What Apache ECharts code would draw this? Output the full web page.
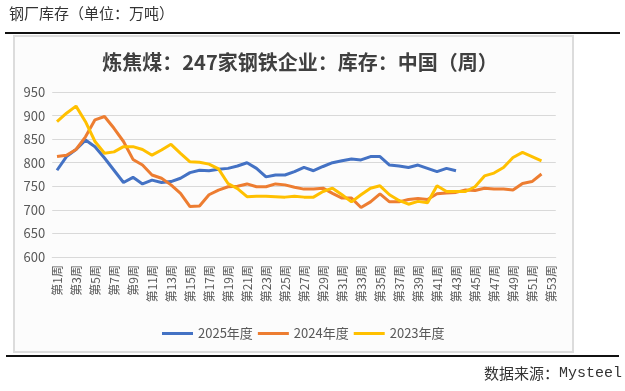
<!DOCTYPE html>
<html><head><meta charset="utf-8">
<script src="https://cdn.jsdelivr.net/npm/echarts@6/dist/echarts.min.js"></script>
<style>html,body{margin:0;padding:0;background:#fff;}#c{width:625px;height:391px;}</style>
</head><body><div id="c"></div>
<script>
const weeks = Array.from({length:53},(_,i)=>'第'+(i+1)+'周');
const s2025 = [784,813,828,848,834,810,784,758,769,755,763,758,760,767,779,784,783,786,788,793,800,788,770,774,774,781,790,783,792,800,804,808,806,813,813,795,793,790,795,788,781,788,783];
const s2024 = [813,816,828,855,891,898,873,845,807,795,774,767,753,735,707,708,732,742,749,750,755,749,749,755,753,748,744,744,746,735,725,725,705,717,734,717,717,722,724,722,734,736,737,742,741,746,744,744,742,756,760,776];
const s2023 = [887,905,920,887,845,820,823,834,834,828,816,827,839,820,802,801,797,787,756,745,728,729,729,728,727,729,727,727,739,746,732,717,732,746,751,732,720,712,718,715,751,739,739,739,749,772,778,790,811,822,813,804];
const yTicks = {min:600,max:950,interval:50};
const seriesNames = ['2025年度','2024年度','2023年度'];
const colors = ['#4472C4','#ED7D31','#FFC000'];
const cjk = '"Noto Sans CJK SC", sans-serif';

const chart = echarts.init(document.getElementById('c'), null, {renderer:'canvas'});
chart.setOption({
  animation:false,
  backgroundColor:'#ffffff',
  graphic:[
    {type:'text', left:9, top:6, style:{text:'钢厂库存（单位：万吨）', font:'15px '+cjk, fill:'#333333'}},
    {type:'line', shape:{x1:5,y1:33,x2:620,y2:33}, style:{stroke:'#111',lineWidth:2}},
    {type:'rect', z:-10, shape:{x:14,y:36,width:559,height:316}, style:{fill:'#fcfcfc',stroke:'#dcdcdc',lineWidth:2}},
    {type:'line', shape:{x1:6,y1:356,x2:619,y2:356}, style:{stroke:'#111',lineWidth:2}},
    {type:'text', right:3, top:366, style:{text:'{a|数据来源：}{b|Mysteel}', rich:{a:{font:'15px '+cjk, fill:'#333'}, b:{font:'15px "Liberation Mono", monospace', fill:'#333'}}}}
  ],
  title:{text:'炼焦煤：247家钢铁企业：库存：中国（周）', left:295, textAlign:'center', top:47,
    textStyle:{fontSize:20, fontWeight:'bold', color:'#404040', fontFamily:cjk}},
  legend:{data:seriesNames, left:157, top:322, icon:'rect', itemWidth:31, itemHeight:3, itemGap:5,
    textStyle:{fontSize:13, color:'#595959', fontFamily:cjk}},
  grid:{left:52.25, top:92, width:503.5, height:165, containLabel:false},
  xAxis:{type:'category', data:weeks, boundaryGap:true,
    axisLine:{lineStyle:{color:'#d9d9d9'}}, axisTick:{show:false},
    axisLabel:{rotate:90, interval:1, fontSize:12, color:'#595959', margin:8, fontFamily:cjk}},
  yAxis:{type:'value', min:yTicks.min, max:yTicks.max, interval:yTicks.interval,
    axisLine:{show:false}, axisTick:{show:false},
    splitLine:{lineStyle:{color:'#d9d9d9'}},
    axisLabel:{fontSize:13, color:'#595959', margin:7, fontFamily:cjk}},
  series:[
    {name:seriesNames[0], type:'line', data:s2025, symbol:'none', lineStyle:{width:3, color:colors[0]}, itemStyle:{color:colors[0]}},
    {name:seriesNames[1], type:'line', data:s2024, symbol:'none', lineStyle:{width:3, color:colors[1]}, itemStyle:{color:colors[1]}},
    {name:seriesNames[2], type:'line', data:s2023, symbol:'none', lineStyle:{width:3, color:colors[2]}, itemStyle:{color:colors[2]}}
  ]
});
</script></body></html>
